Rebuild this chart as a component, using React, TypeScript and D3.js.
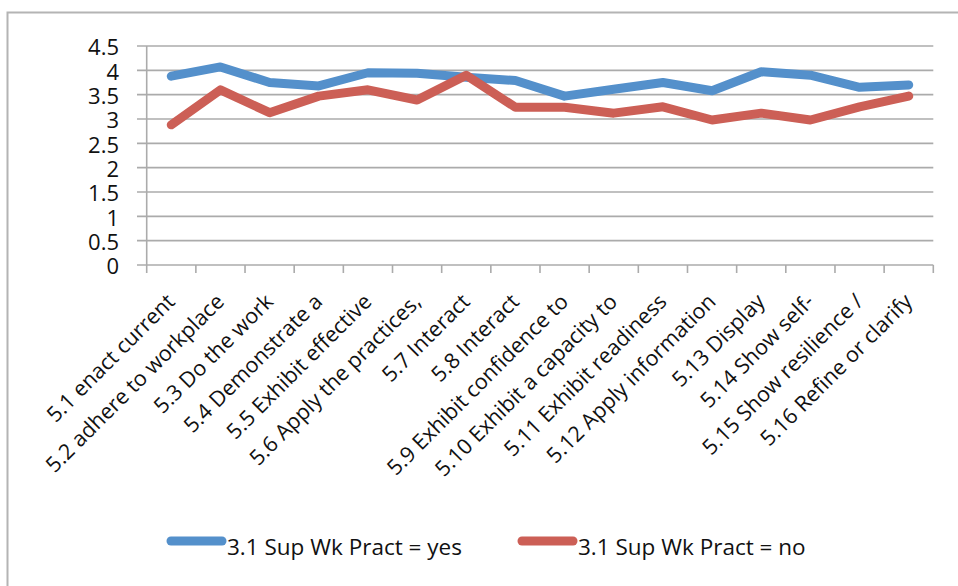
import React from "react";
import * as d3 from "d3";

const categories = [
  "5.1 enact current",
  "5.2 adhere to workplace",
  "5.3 Do the work",
  "5.4 Demonstrate a",
  "5.5 Exhibit effective",
  "5.6 Apply the practices,",
  "5.7 Interact",
  "5.8 Interact",
  "5.9 Exhibit confidence to",
  "5.10 Exhibit a capacity to",
  "5.11 Exhibit readiness",
  "5.12 Apply information",
  "5.13 Display",
  "5.14 Show self-",
  "5.15 Show resilience /",
  "5.16 Refine or clarify",
];

const yesValues = [3.88, 4.07, 3.75, 3.68, 3.95, 3.94, 3.86, 3.79, 3.47, 3.61, 3.75, 3.58, 3.97, 3.9, 3.65, 3.7];
const noValues = [2.88, 3.6, 3.13, 3.47, 3.6, 3.39, 3.9, 3.24, 3.24, 3.12, 3.25, 2.98, 3.12, 2.98, 3.25, 3.47];

const yTicks = [0, 0.5, 1, 1.5, 2, 2.5, 3, 3.5, 4, 4.5];
const seriesNames = ["3.1 Sup Wk Pract = yes", "3.1 Sup Wk Pract = no"];
const seriesColors = ["#5490CB", "#CC5F56"];

const W = 958;
const H = 586;
const FONT = "'Open Sans', 'DejaVu Sans', sans-serif";

export default function App() {
  const x = d3.scaleBand<string>().domain(categories).range([146.7, 933.3]).padding(0);
  const y = d3.scaleLinear().domain([0, 4.5]).range([265, 46]);
  const bw = x.bandwidth();
  const cx = (c: string) => (x(c) as number) + bw / 2;

  const line = d3
    .line<number>()
    .x((_, i) => cx(categories[i]))
    .y((d) => y(d));

  const series = [yesValues, noValues];
  const gridColor = "#ABABAB";
  const boundaries = d3.range(categories.length + 1).map((i) => 146.7 + i * bw);

  return (
    <svg
      width={W}
      height={H}
      style={{ position: "absolute", left: 0, top: 0, background: "#fff" }}
      fontFamily={FONT}
    >
      <rect x={0} y={0} width={W} height={H} fill="#fff" />
      {/* frame */}
      <path d={`M7.5,${H} L7.5,12.5 L${W},12.5`} fill="none" stroke="#B4B4B4" strokeWidth={2} />

      {/* gridlines */}
      {yTicks.map((t) => (
        <line key={t} x1={137} x2={933.3} y1={y(t)} y2={y(t)} stroke={gridColor} strokeWidth={1.6} />
      ))}
      {/* y axis */}
      <line x1={146.7} x2={146.7} y1={y(4.5)} y2={y(0)} stroke={gridColor} strokeWidth={1.6} />
      {/* x ticks */}
      {boundaries.map((bx, i) => (
        <line key={i} x1={bx} x2={bx} y1={y(0)} y2={y(0) + 8} stroke={gridColor} strokeWidth={1.6} />
      ))}

      {/* y labels */}
      {yTicks.map((t) => (
        <text key={t} x={119} y={y(t)} dy="0.42em" textAnchor="end" fontSize={22} fill="#111">
          {String(t)}
        </text>
      ))}

      {/* x labels */}
      {categories.map((c) => (
        <text
          key={c}
          transform={`translate(${cx(c) + 5},${303}) rotate(-45)`}
          textAnchor="end"
          fontSize={21.5}
          fill="#111"
        >
          {c}
        </text>
      ))}

      {/* series lines */}
      {series.map((s, i) => (
        <path
          key={i}
          d={line(s) as string}
          fill="none"
          stroke={seriesColors[i]}
          strokeWidth={9}
          strokeLinejoin="round"
          strokeLinecap="round"
        />
      ))}

      {/* legend */}
      {[
        { x1: 167, x2: 226, tx: 227 },
        { x1: 518, x2: 577, tx: 578 },
      ].map((l, i) => (
        <g key={i}>
          <line x1={l.x1 + 4} x2={l.x2 - 4} y1={541} y2={541} stroke={seriesColors[i]} strokeWidth={9} strokeLinecap="round" />
          <text x={l.tx} y={555} fontSize={22.5} fill="#111">
            {seriesNames[i]}
          </text>
        </g>
      ))}
    </svg>
  );
}
